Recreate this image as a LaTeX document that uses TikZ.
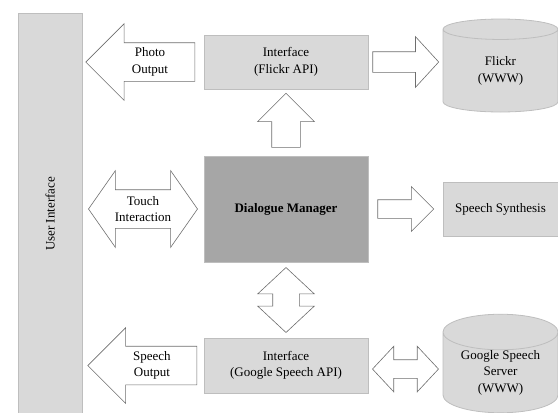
\documentclass[tikz,border=0pt]{standalone}
\usepackage{fontspec}
\setmainfont{Liberation Serif}
\usepackage{tikz}
\usetikzlibrary{
	positioning,
	calc,
	shapes.arrows,
	shapes.geometric
}
\definecolor{BoxFill}{RGB}{217,217,217}
\definecolor{BoxLine}{RGB}{190,190,190}
\definecolor{ManagerFill}{RGB}{166,166,166}
\definecolor{ArrowLine}{RGB}{110,110,110}

\tikzset{
	txt/.style={
		font=\fontsize{13}{16.5}\selectfont,
		align=center
	},
	block/.style={
		txt,
		draw=BoxLine,
		fill=BoxFill,
		thick,
		inner sep=0pt
	},
	store/.style={
		block,
		cylinder,
		shape border rotate=90,
		aspect=0.45,
		anchor=shape center
	},
	fatarrow/.style={
		single arrow,
		draw=ArrowLine,
		fill=white,
		semithick,
		inner xsep=0pt
	},
	twinarrow/.style={
		double arrow,
		draw=ArrowLine,
		fill=white,
		semithick,
		inner xsep=0pt
	}
}

\begin{document}
\begin{tikzpicture}[x=1pt,y=-1pt]
				
				\useasboundingbox (0,0) rectangle (558,413);
				
				% User interface bar
				\node[
				block,
				minimum width=64pt,
				minimum height=407pt
				] (ui) at (50,216.5) {};
				
				\node[
				txt,
				rotate=90
				] (uitext) at (50,214) {User Interface};
				
				% Middle column
				\node[
				block,
				minimum width=164pt,
				minimum height=54pt
				] (flickrif) at (286,62) {Interface\\(Flickr API)};
				
				\node[
				block,
				fill=ManagerFill,
				minimum width=164pt,
				minimum height=106pt,
				font=\fontsize{13}{16.5}\selectfont\bfseries
				] (dm) at (286,209) {Dialogue Manager};
				
				\node[
				block,
				minimum width=164pt,
				minimum height=55pt
				] (googleif) at (286,365.5) {Interface\\(Google Speech API)};
				
				% Right column
				\node[
				store,
				minimum width=115pt,
				minimum height=93pt
				] (flickr) at (500.5,65.5) {Flickr\\(WWW)};
				
				\node[
				block,
				minimum width=115pt,
				minimum height=54pt
				] (synth) at (500.5,209) {Speech Synthesis};
				
				\node[
				store,
				minimum width=115pt,
				minimum height=93pt
				] (server) at (500.5,363.5) {Google Speech\\Server\\(WWW)};
				
				% Arrows to the user interface
				\node[
				fatarrow,
				shape border rotate=180,
				anchor=tip,
				minimum height=109pt,
				inner ysep=19pt,
				single arrow head extend=19pt,
				label={[txt]center:Photo\\Output}
				] (photo) at ([xshift=3pt]ui.east|-flickrif) {};
				
				\node[
				twinarrow,
				minimum height=109pt,
				inner ysep=19pt,
				double arrow head extend=19pt,
				double arrow tip angle=110,
				label={[txt]center:Touch\\Interaction}
				] (touch) at ($(ui.east|-dm)!0.5!(dm.west)$) {};
				
				\node[
				fatarrow,
				shape border rotate=180,
				anchor=tip,
				minimum height=109pt,
				inner ysep=19pt,
				single arrow head extend=18.5pt,
				label={[txt]center:Speech\\Output}
				] (speechout) at ([xshift=5pt]ui.east|-googleif) {};
				
				% Arrows between the blocks
				\node[
				fatarrow,
				anchor=tail,
				minimum height=66pt,
				inner ysep=10pt,
				single arrow head extend=15pt,
				single arrow tip angle=95
				] (toflickr) at ([xshift=4pt]flickrif.east) {};
				
				\node[
				fatarrow,
				shape border rotate=90,
				anchor=tail,
				minimum height=54pt,
				inner xsep=14pt,
				inner ysep=0pt,
				single arrow head extend=14pt
				] (up) at ([yshift=8pt]dm.north) {};
				
				\node[
				fatarrow,
				anchor=tail,
				minimum height=56pt,
				inner ysep=9pt,
				single arrow head extend=13pt
				] (tosynth) at ([xshift=9pt]dm.east) {};
				
				\node[
				twinarrow,
				shape border rotate=90,
				minimum height=65pt,
				inner xsep=13pt,
				inner ysep=0pt,
				double arrow head extend=15pt,
				double arrow tip angle=94
				] (updown) at ($(dm.south)!0.5!(googleif.north)$) {};
				
				\node[
				twinarrow,
				minimum height=66pt,
				inner ysep=9pt,
				double arrow head extend=13.5pt,
				double arrow tip angle=94
				] (toserver) at ($(googleif.east)!0.5!(server.west)$) {};
				
			\end{tikzpicture}
\end{document}
